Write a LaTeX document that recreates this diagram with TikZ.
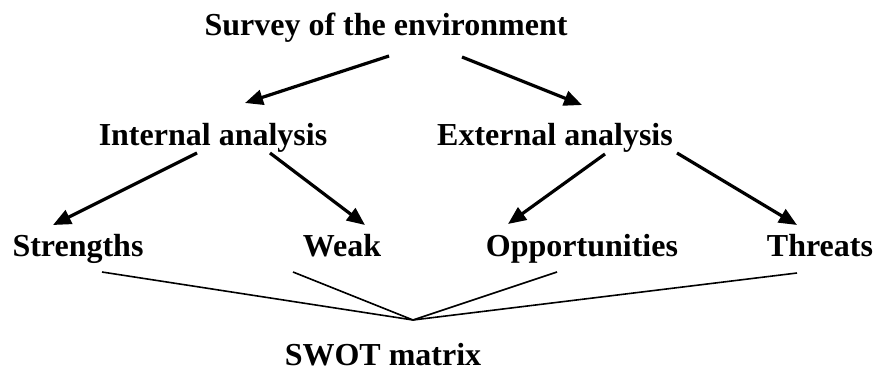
\documentclass[tikz,border=0pt]{standalone}
\usepackage{fontspec}
\setmainfont{Liberation Serif}
\usetikzlibrary{arrows.meta}
\tikzset{
  lbl/.style={inner sep=0pt, anchor=base, font=\fontsize{32}{36}\selectfont\bfseries},
  arr/.style={line width=3.2pt, -{Triangle[length=18pt,width=15pt]}},
  link/.style={line width=1.6pt}
}
\begin{document}
\begin{tikzpicture}[x=1pt, y=-1pt]
  \useasboundingbox (0,0) rectangle (877,372);
  % labels
  \node[lbl] (surv) at (386,35)    {Survey of the environment};
  \node[lbl] (int)  at (213,145.5) {Internal analysis};
  \node[lbl] (ext)  at (555,145.5) {External analysis};
  \node[lbl] (str)  at (78,256)    {Strengths};
  \node[lbl] (weak) at (342,256)   {Weak};
  \node[lbl] (opp)  at (582,256)   {Opportunities};
  \node[lbl] (thr)  at (820,256)   {Threats};
  \node[lbl] (swot) at (383,365.5) {SWOT matrix};
  \coordinate (hub) at ([shift={(30,-45.5)}]swot.base);
  % top level
  \draw[arr] ([shift={(3,21)}]surv.base)  -- ([shift={(32,-42.5)}]int.base);
  \draw[arr] ([shift={(76,22)}]surv.base) -- ([shift={(27,-40.5)}]ext.base);
  % second level
  \draw[arr] ([shift={(-16,7.5)}]int.base) -- ([shift={(-25,-31)}]str.base);
  \draw[arr] ([shift={(57,7.5)}]int.base)  -- ([shift={(23,-31)}]weak.base);
  \draw[arr] ([shift={(50,8.5)}]ext.base)  -- ([shift={(-74,-32)}]opp.base);
  \draw[arr] ([shift={(122,7.5)}]ext.base) -- ([shift={(-23,-31)}]thr.base);
  % joining lines
  \draw[link] ([shift={(24,16)}]str.base)   -- (hub);
  \draw[link] ([shift={(-49,16)}]weak.base) -- (hub);
  \draw[link] ([shift={(-25,16)}]opp.base)  -- (hub);
  \draw[link] ([shift={(-23,17)}]thr.base)  -- (hub);
\end{tikzpicture}
\end{document}
